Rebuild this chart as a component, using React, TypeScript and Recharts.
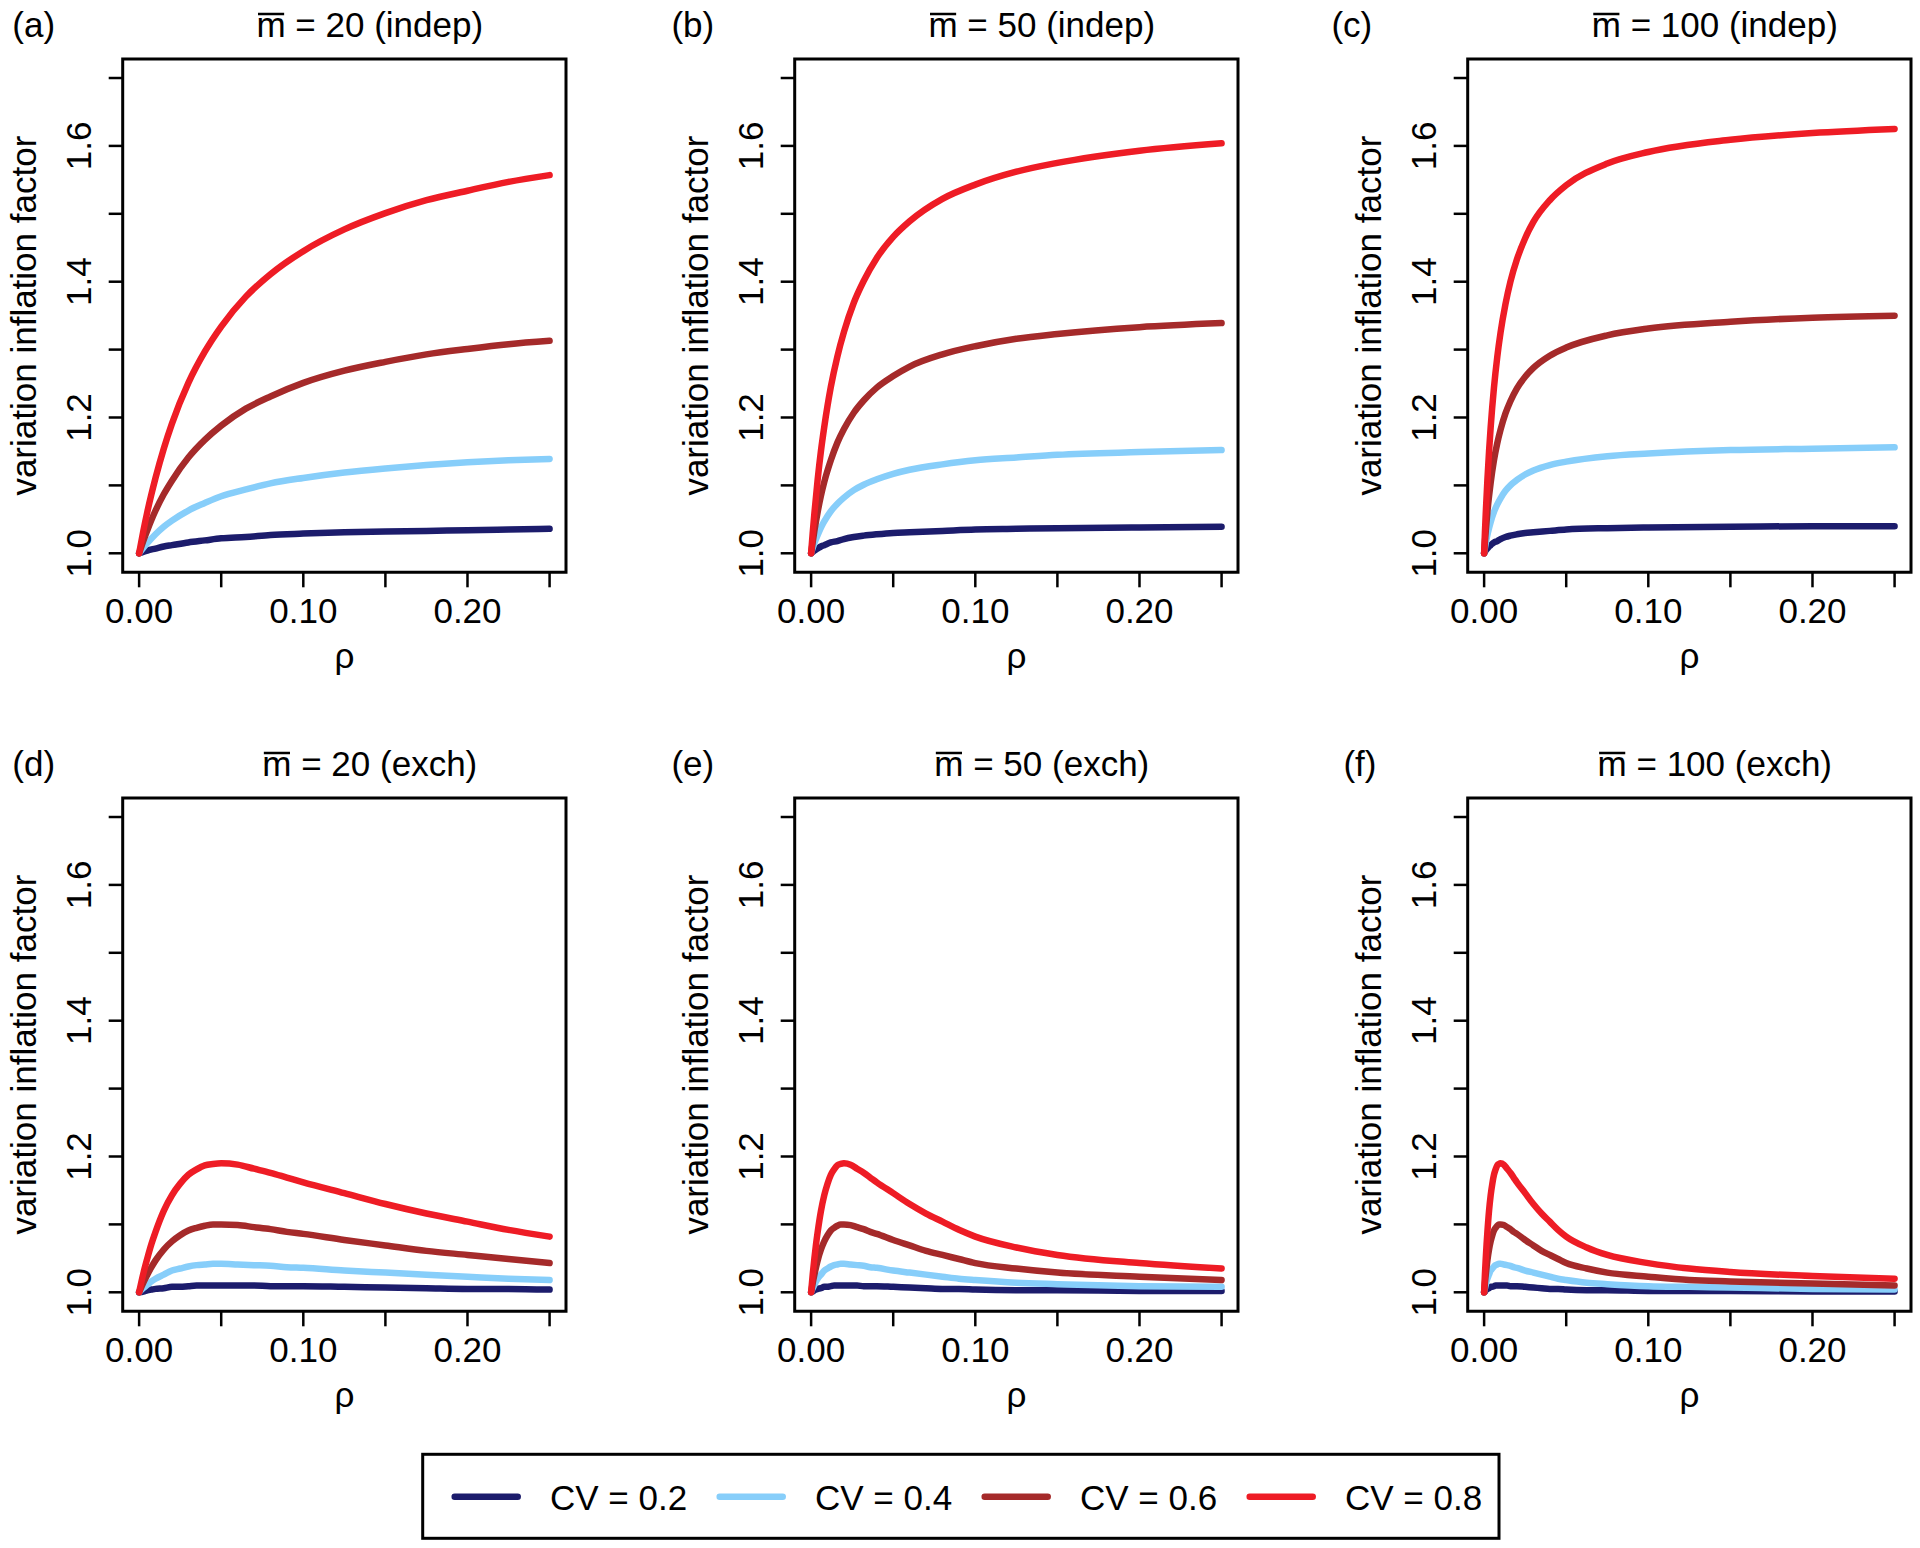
import React from "react";
import { LineChart, Line, XAxis, YAxis, ReferenceArea } from "recharts";

// series (one per CV value), drawn in this order
const seriesNames = ["CV = 0.2", "CV = 0.4", "CV = 0.6", "CV = 0.8"];
const seriesColors = ["#1c1c6c", "#87cefa", "#a52a2a", "#ee1c25"];

const xTicks = [0, 0.05, 0.1, 0.15, 0.2, 0.25];
const xTickLabels = ["0.00", "", "0.10", "", "0.20", ""];
const yTicks = [1.0, 1.1, 1.2, 1.3, 1.4, 1.5, 1.6, 1.7];
const yTickLabels = ["1.0", "", "1.2", "", "1.4", "", "1.6", ""];

const panelLetters = ["(a)", "(b)", "(c)", "(d)", "(e)", "(f)"];
const panelM = ["20", "50", "100", "20", "50", "100"];
const panelKind = ["indep", "indep", "indep", "exch", "exch", "exch"];

// (a) m = 20, independence
const rhoIndep20 = [0, 0.0025, 0.005, 0.01, 0.015, 0.02, 0.03, 0.04, 0.05, 0.065, 0.08, 0.1, 0.125, 0.15, 0.175, 0.2, 0.225, 0.25];
const vifIndep20 = [
  [1, 1.002, 1.004, 1.007, 1.01, 1.012, 1.016, 1.019, 1.022, 1.024, 1.027, 1.029, 1.031, 1.032, 1.033, 1.034, 1.035, 1.036],
  [1, 1.008, 1.015, 1.028, 1.039, 1.048, 1.063, 1.074, 1.084, 1.094, 1.103, 1.111, 1.119, 1.125, 1.13, 1.134, 1.137, 1.139],
  [1, 1.018, 1.034, 1.063, 1.087, 1.107, 1.141, 1.167, 1.188, 1.213, 1.231, 1.251, 1.269, 1.282, 1.293, 1.301, 1.308, 1.313],
  [1, 1.032, 1.061, 1.111, 1.154, 1.191, 1.251, 1.297, 1.334, 1.378, 1.411, 1.445, 1.477, 1.501, 1.52, 1.534, 1.547, 1.557],
];

// (b) m = 50, independence
const rhoIndep50 = [0, 0.001, 0.002, 0.004, 0.006, 0.008, 0.012, 0.016, 0.02, 0.026, 0.032, 0.04, 0.05, 0.06, 0.08, 0.1, 0.125, 0.15, 0.2, 0.25];
const vifIndep50 = [
  [1, 1.002, 1.004, 1.007, 1.01, 1.012, 1.016, 1.018, 1.021, 1.024, 1.026, 1.028, 1.03, 1.031, 1.033, 1.035, 1.036, 1.037, 1.038, 1.039],
  [1, 1.008, 1.015, 1.027, 1.038, 1.047, 1.062, 1.073, 1.082, 1.093, 1.101, 1.109, 1.117, 1.123, 1.131, 1.137, 1.141, 1.145, 1.149, 1.152],
  [1, 1.017, 1.033, 1.061, 1.085, 1.105, 1.137, 1.163, 1.183, 1.207, 1.225, 1.244, 1.261, 1.275, 1.293, 1.305, 1.316, 1.323, 1.333, 1.339],
  [1, 1.031, 1.059, 1.109, 1.151, 1.186, 1.245, 1.29, 1.326, 1.369, 1.401, 1.435, 1.466, 1.489, 1.522, 1.543, 1.562, 1.575, 1.593, 1.604],
];

// (c) m = 100, independence
const rhoIndep100 = [0, 0.0005, 0.001, 0.002, 0.003, 0.004, 0.006, 0.008, 0.01, 0.013, 0.016, 0.02, 0.025, 0.03, 0.04, 0.05, 0.075, 0.1, 0.15, 0.2, 0.25];
const vifIndep100 = [
  [1, 1.002, 1.004, 1.007, 1.01, 1.012, 1.016, 1.018, 1.021, 1.024, 1.026, 1.028, 1.03, 1.031, 1.033, 1.035, 1.037, 1.038, 1.039, 1.04, 1.04],
  [1, 1.008, 1.015, 1.027, 1.037, 1.046, 1.061, 1.072, 1.081, 1.092, 1.1, 1.108, 1.116, 1.122, 1.13, 1.135, 1.143, 1.147, 1.152, 1.154, 1.156],
  [1, 1.017, 1.033, 1.061, 1.084, 1.104, 1.137, 1.162, 1.182, 1.206, 1.224, 1.243, 1.26, 1.273, 1.291, 1.303, 1.321, 1.331, 1.341, 1.347, 1.35],
  [1, 1.031, 1.059, 1.108, 1.15, 1.186, 1.244, 1.289, 1.325, 1.367, 1.4, 1.433, 1.464, 1.488, 1.52, 1.542, 1.574, 1.591, 1.609, 1.619, 1.625],
];

// (d) m = 20, exchangeable
const rhoExch20 = [0, 0.0025, 0.005, 0.0075, 0.01, 0.015, 0.02, 0.025, 0.03, 0.035, 0.04, 0.045, 0.05, 0.06, 0.07, 0.08, 0.09, 0.1, 0.125, 0.15, 0.175, 0.2, 0.225, 0.25];
const vifExch20 = [
  [1, 1.001, 1.003, 1.004, 1.005, 1.006, 1.008, 1.008, 1.009, 1.01, 1.01, 1.01, 1.01, 1.01, 1.01, 1.009, 1.009, 1.009, 1.008, 1.007, 1.006, 1.005, 1.005, 1.004],
  [1, 1.006, 1.011, 1.016, 1.02, 1.026, 1.032, 1.035, 1.038, 1.04, 1.041, 1.042, 1.042, 1.041, 1.04, 1.039, 1.037, 1.036, 1.032, 1.029, 1.026, 1.023, 1.02, 1.018],
  [1, 1.014, 1.026, 1.037, 1.047, 1.063, 1.075, 1.084, 1.091, 1.095, 1.098, 1.1, 1.1, 1.099, 1.096, 1.093, 1.089, 1.086, 1.077, 1.069, 1.061, 1.055, 1.049, 1.043],
  [1, 1.027, 1.05, 1.071, 1.089, 1.12, 1.143, 1.16, 1.173, 1.181, 1.187, 1.189, 1.19, 1.188, 1.182, 1.176, 1.169, 1.162, 1.146, 1.13, 1.116, 1.104, 1.092, 1.082],
];

// (e) m = 50, exchangeable
const rhoExch50 = [0, 0.001, 0.002, 0.003, 0.004, 0.006, 0.008, 0.01, 0.012, 0.014, 0.016, 0.018, 0.02, 0.024, 0.028, 0.032, 0.036, 0.04, 0.05, 0.06, 0.07, 0.08, 0.09, 0.1, 0.125, 0.15, 0.2, 0.25];
const vifExch50 = [
  [1, 1.001, 1.003, 1.004, 1.005, 1.006, 1.008, 1.008, 1.009, 1.01, 1.01, 1.01, 1.01, 1.01, 1.01, 1.009, 1.009, 1.009, 1.008, 1.007, 1.006, 1.005, 1.005, 1.004, 1.003, 1.003, 1.002, 1.002],
  [1, 1.006, 1.011, 1.016, 1.02, 1.026, 1.032, 1.035, 1.038, 1.04, 1.041, 1.042, 1.042, 1.041, 1.04, 1.039, 1.037, 1.036, 1.032, 1.029, 1.026, 1.023, 1.02, 1.018, 1.014, 1.012, 1.009, 1.008],
  [1, 1.014, 1.026, 1.037, 1.047, 1.063, 1.075, 1.084, 1.091, 1.095, 1.098, 1.1, 1.1, 1.099, 1.096, 1.093, 1.089, 1.086, 1.077, 1.069, 1.061, 1.055, 1.049, 1.043, 1.035, 1.029, 1.023, 1.018],
  [1, 1.027, 1.05, 1.071, 1.089, 1.12, 1.143, 1.16, 1.173, 1.181, 1.187, 1.189, 1.19, 1.188, 1.182, 1.176, 1.169, 1.162, 1.146, 1.13, 1.116, 1.104, 1.092, 1.082, 1.066, 1.055, 1.043, 1.035],
];

// (f) m = 100, exchangeable
const rhoExch100 = [0, 0.0005, 0.001, 0.0015, 0.002, 0.003, 0.004, 0.005, 0.006, 0.007, 0.008, 0.009, 0.01, 0.012, 0.014, 0.016, 0.018, 0.02, 0.025, 0.03, 0.035, 0.04, 0.045, 0.05, 0.0625, 0.075, 0.1, 0.125, 0.15, 0.2, 0.25];
const vifExch100 = [
  [1, 1.001, 1.003, 1.004, 1.005, 1.006, 1.008, 1.008, 1.009, 1.01, 1.01, 1.01, 1.01, 1.01, 1.01, 1.009, 1.009, 1.009, 1.008, 1.007, 1.006, 1.005, 1.005, 1.004, 1.003, 1.003, 1.002, 1.002, 1.002, 1.001, 1.001],
  [1, 1.006, 1.011, 1.016, 1.02, 1.026, 1.032, 1.035, 1.038, 1.04, 1.041, 1.042, 1.042, 1.041, 1.04, 1.039, 1.037, 1.036, 1.032, 1.029, 1.026, 1.023, 1.02, 1.018, 1.014, 1.012, 1.009, 1.008, 1.007, 1.005, 1.004],
  [1, 1.014, 1.026, 1.037, 1.047, 1.063, 1.075, 1.084, 1.091, 1.095, 1.098, 1.1, 1.1, 1.099, 1.096, 1.093, 1.089, 1.086, 1.077, 1.069, 1.061, 1.055, 1.049, 1.043, 1.035, 1.029, 1.023, 1.018, 1.016, 1.013, 1.01],
  [1, 1.027, 1.05, 1.071, 1.089, 1.12, 1.143, 1.16, 1.173, 1.181, 1.187, 1.189, 1.19, 1.188, 1.182, 1.176, 1.169, 1.162, 1.146, 1.13, 1.116, 1.104, 1.092, 1.082, 1.066, 1.055, 1.043, 1.035, 1.03, 1.024, 1.02],
];

const panelRho = [rhoIndep20, rhoIndep50, rhoIndep100, rhoExch20, rhoExch50, rhoExch100];
const panelVif = [vifIndep20, vifIndep50, vifIndep100, vifExch20, vifExch50, vifExch100];

// layout (px)
const FONT = "'Liberation Sans', Arial, Helvetica, sans-serif";
const FS = 35;
const COL_STEP = 672.3;
const ROW_STEP = 738.5;
const CW = 640;
const CH = 700;
const PLOT_L = 122.7;
const PLOT_T = 59;
const PLOT_R = 566;
const PLOT_B = 572.3;
const Y_AXIS_W = 60;
const X_AXIS_H = 60;
const X_DOMAIN: [number, number] = [-0.01, 0.26];
const Y_DOMAIN: [number, number] = [0.972, 1.728];
const LETTER_X = [12.3, 671.7, 1331, 12.3, 671.7, 1343];

// Helvetica/Arial advance widths (em) for title centring
const glyphW: Record<string, number> = {
  m: 0.833, " ": 0.278, "=": 0.584, "(": 0.333, ")": 0.333,
  i: 0.222, n: 0.556, d: 0.556, e: 0.556, p: 0.556, x: 0.5, c: 0.5, h: 0.556,
};
const textW = (s: string) =>
  [...s].reduce((w, ch) => w + (glyphW[ch] ?? 0.556), 0) * FS;

const labelFor = (ticks: number[], labels: string[], v: number) => {
  const i = ticks.findIndex((t) => Math.abs(t - v) < 1e-9);
  return i >= 0 ? labels[i] : "";
};

function XTick(props: any) {
  const { x, y, payload } = props;
  return (
    <text x={x} y={y + 33.7} textAnchor="middle" fontSize={FS} fontFamily={FONT} fill="#000">
      {labelFor(xTicks, xTickLabels, payload.value)}
    </text>
  );
}

function YTick(props: any) {
  const { x, y, payload } = props;
  const bx = x - 15.7;
  return (
    <text
      x={bx}
      y={y}
      transform={`rotate(-90, ${bx}, ${y})`}
      textAnchor="middle"
      fontSize={FS}
      fontFamily={FONT}
      fill="#000"
    >
      {labelFor(yTicks, yTickLabels, payload.value)}
    </text>
  );
}

function Panel({ index }: { index: number }) {
  const col = index % 3;
  const row = Math.floor(index / 3);
  const rho = panelRho[index];
  const vif = panelVif[index];
  const rows = rho.map((r, i) => ({
    rho: r,
    s0: vif[0][i],
    s1: vif[1][i],
    s2: vif[2][i],
    s3: vif[3][i],
  }));

  const titleRest = ` = ${panelM[index]} (${panelKind[index]})`;
  const titleStart = 369.8 - textW("m" + titleRest) / 2;
  const mW = textW("m");
  const cy = (PLOT_T + PLOT_B) / 2;
  const cx = (PLOT_L + PLOT_R) / 2;

  return (
    <div style={{ position: "absolute", left: col * COL_STEP, top: row * ROW_STEP, width: CW, height: CH }}>
      <LineChart
        width={CW}
        height={CH}
        data={rows}
        margin={{
          top: PLOT_T,
          right: CW - PLOT_R,
          bottom: CH - PLOT_B - X_AXIS_H,
          left: PLOT_L - Y_AXIS_W,
        }}
      >
        <XAxis
          type="number"
          dataKey="rho"
          domain={X_DOMAIN}
          ticks={xTicks}
          interval={0}
          allowDataOverflow
          axisLine={false}
          tickLine={{ stroke: "#000", strokeWidth: 2.5 }}
          tickSize={15}
          height={X_AXIS_H}
          tick={<XTick />}
        />
        <YAxis
          type="number"
          domain={Y_DOMAIN}
          ticks={yTicks}
          interval={0}
          allowDataOverflow
          axisLine={false}
          tickLine={{ stroke: "#000", strokeWidth: 2.5 }}
          tickSize={14}
          width={Y_AXIS_W}
          tick={<YTick />}
        />
        <ReferenceArea
          x1={X_DOMAIN[0]}
          x2={X_DOMAIN[1]}
          y1={Y_DOMAIN[0]}
          y2={Y_DOMAIN[1]}
          fill="none"
          stroke="#000"
          strokeWidth={3}
          ifOverflow="visible"
        />
        {seriesNames.map((name, i) => (
          <Line
            key={name}
            name={name}
            dataKey={`s${i}`}
            type="monotone"
            stroke={seriesColors[i]}
            strokeWidth={6.5}
            strokeLinecap="round"
            strokeLinejoin="round"
            dot={false}
            activeDot={false}
            isAnimationActive={false}
          />
        ))}
      </LineChart>
      <svg
        width={CW}
        height={CH}
        style={{ position: "absolute", left: 0, top: 0, pointerEvents: "none", overflow: "visible" }}
        fontFamily={FONT}
        fontSize={FS}
      >
        <text x={LETTER_X[index] - col * COL_STEP} y={37}>{panelLetters[index]}</text>
        <text x={titleStart} y={37}>{"m" + titleRest}</text>
        <line x1={titleStart + 1.5} x2={titleStart + mW - 1.5} y1={14} y2={14} stroke="#000" strokeWidth={2.5} />
        <text x={36} y={cy} textAnchor="middle" transform={`rotate(-90, 36, ${cy})`}>
          variation inflation factor
        </text>
        <text x={cx} y={668} textAnchor="middle">ρ</text>
      </svg>
    </div>
  );
}

function LegendBox() {
  const x0 = 422.7;
  const x1 = 1499;
  const y0 = 1454.3;
  const y1 = 1538.3;
  const step = 265;
  return (
    <svg
      width={1920}
      height={1548}
      style={{ position: "absolute", left: 0, top: 0, pointerEvents: "none" }}
      fontFamily={FONT}
      fontSize={FS}
    >
      <rect x={x0} y={y0} width={x1 - x0} height={y1 - y0} fill="none" stroke="#000" strokeWidth={3} />
      {seriesNames.map((name, i) => (
        <g key={name}>
          <line
            x1={454.7 + i * step}
            x2={517.7 + i * step}
            y1={1496.7}
            y2={1496.7}
            stroke={seriesColors[i]}
            strokeWidth={6.5}
            strokeLinecap="round"
          />
          <text x={550 + i * step} y={1510}>{name}</text>
        </g>
      ))}
    </svg>
  );
}

export default function App() {
  return (
    <div
      style={{
        position: "absolute",
        left: 0,
        top: 0,
        width: 1920,
        height: 1548,
        overflow: "hidden",
        background: "#fff",
        fontFamily: FONT,
      }}
    >
      {[0, 1, 2, 3, 4, 5].map((i) => (
        <Panel key={i} index={i} />
      ))}
      <LegendBox />
    </div>
  );
}
